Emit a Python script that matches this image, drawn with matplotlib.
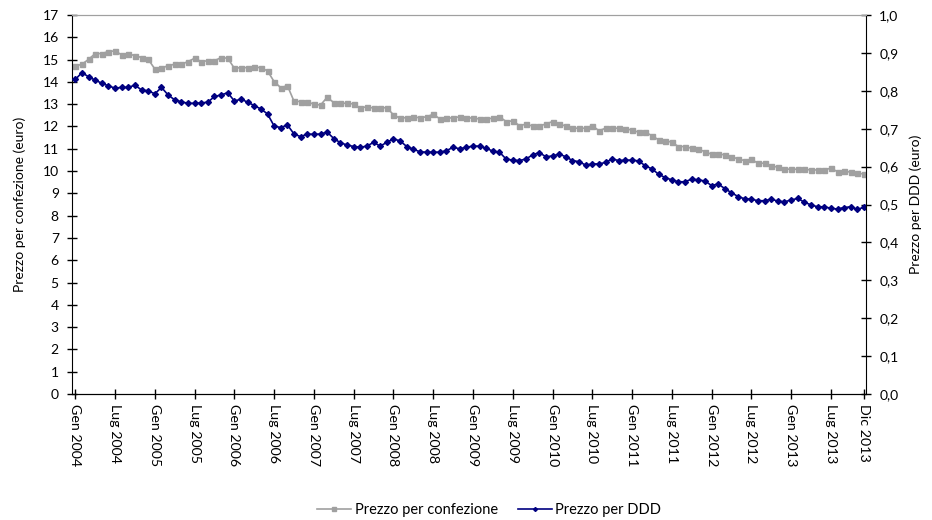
import matplotlib
matplotlib.use("Agg")
import matplotlib.pyplot as plt
from matplotlib.lines import Line2D
from matplotlib.ticker import FuncFormatter

plt.rcParams['font.family'] = ['Lato', 'DejaVu Sans']

# --- data (monthly, Gen 2004 .. Dic 2013) ---
prezzo_confezione = [
    14.71, 14.79, 15.01, 15.27, 15.27, 15.36, 15.39, 15.21, 15.25, 15.18,
    15.09, 15.01, 14.58, 14.61, 14.73, 14.79, 14.79, 14.91, 15.06, 14.91,
    14.95, 14.95, 15.09, 15.06, 14.61, 14.64, 14.64, 14.66, 14.64, 14.49,
    14.01, 13.74, 13.83, 13.13, 13.12, 13.10, 13.00, 12.96, 13.31, 13.07,
    13.04, 13.04, 13.01, 12.82, 12.89, 12.82, 12.82, 12.85, 12.52, 12.37,
    12.40, 12.41, 12.40, 12.43, 12.55, 12.34, 12.40, 12.37, 12.44, 12.40,
    12.37, 12.34, 12.34, 12.37, 12.44, 12.22, 12.25, 12.04, 12.10, 12.02,
    12.02, 12.11, 12.22, 12.11, 12.02, 11.92, 11.92, 11.92, 12.04, 11.81,
    11.92, 11.92, 11.92, 11.89, 11.84, 11.74, 11.74, 11.59, 11.40, 11.37,
    11.29, 11.10, 11.10, 11.02, 10.98, 10.87, 10.75, 10.78, 10.72, 10.65,
    10.54, 10.47, 10.53, 10.35, 10.35, 10.24, 10.17, 10.09, 10.08, 10.08,
    10.08, 10.05, 10.05, 10.05, 10.13, 9.97, 10.02, 9.94, 9.90, 9.87,
]

prezzo_ddd = [
    0.830, 0.848, 0.837, 0.828, 0.820, 0.813, 0.807, 0.809, 0.809, 0.815,
    0.802, 0.800, 0.792, 0.809, 0.789, 0.776, 0.771, 0.767, 0.767, 0.768,
    0.770, 0.785, 0.789, 0.795, 0.773, 0.778, 0.770, 0.761, 0.752, 0.739,
    0.707, 0.703, 0.710, 0.686, 0.679, 0.686, 0.685, 0.686, 0.691, 0.674,
    0.663, 0.657, 0.653, 0.651, 0.654, 0.664, 0.654, 0.664, 0.673, 0.668,
    0.653, 0.646, 0.639, 0.638, 0.638, 0.638, 0.642, 0.651, 0.647, 0.651,
    0.654, 0.654, 0.648, 0.641, 0.638, 0.620, 0.617, 0.616, 0.620, 0.631,
    0.637, 0.626, 0.628, 0.633, 0.626, 0.616, 0.613, 0.604, 0.607, 0.607,
    0.611, 0.620, 0.616, 0.617, 0.617, 0.615, 0.602, 0.594, 0.580, 0.571,
    0.565, 0.560, 0.560, 0.567, 0.565, 0.562, 0.550, 0.554, 0.542, 0.531,
    0.521, 0.515, 0.514, 0.510, 0.510, 0.514, 0.509, 0.507, 0.512, 0.516,
    0.506, 0.499, 0.494, 0.494, 0.490, 0.488, 0.492, 0.494, 0.487, 0.493,
]

tick_months = [0, 6, 12, 18, 24, 30, 36, 42, 48, 54, 60, 66, 72, 78, 84,
               90, 96, 102, 108, 114, 119]
tick_labels = ["Gen 2004", "Lug 2004", "Gen 2005", "Lug 2005", "Gen 2006",
               "Lug 2006", "Gen 2007", "Lug 2007", "Gen 2008", "Lug 2008",
               "Gen 2009", "Lug 2009", "Gen 2010", "Lug 2010", "Gen 2011",
               "Lug 2011", "Gen 2012", "Lug 2012", "Gen 2013", "Lug 2013",
               "Dic 2013"]

GRAY = "#a0a0a0"
NAVY = "#000080"

x = list(range(len(prezzo_confezione)))

fig, ax = plt.subplots(figsize=(9.32, 5.2), dpi=100)
fig.subplots_adjust(left=72 / 932, right=866 / 932, top=1 - 15 / 520, bottom=1 - 394 / 520)
ax2 = ax.twinx()

ax.plot(x, prezzo_confezione, color=GRAY, lw=1.2, marker="s", ms=3.6)
ax2.plot(x, prezzo_ddd, color=NAVY, lw=1.2, marker="D", ms=3.0)

ax.set_xlim(-0.5, 119.3)
ax.set_ylim(0, 17)
ax.set_yticks(range(0, 18))
ax2.set_ylim(0, 1.0)
ax2.set_yticks([i / 10 for i in range(11)])
ax2.yaxis.set_major_formatter(FuncFormatter(lambda v, p: f"{v:.1f}".replace(".", ",")))

ax.set_xticks(tick_months)
ax.set_xticklabels(tick_labels, rotation=270, fontsize=10.3)

for a in (ax, ax2):
    a.tick_params(axis="y", direction="inout", length=7, width=1, labelsize=10, pad=6)
    a.spines["top"].set_color(GRAY)
ax.tick_params(axis="x", direction="inout", length=7, width=1, pad=4)
ax.spines["right"].set_visible(False)
ax2.spines["left"].set_visible(False)
ax2.spines["right"].set_color("black")

ax.set_ylabel("Prezzo per confezione (euro)", fontsize=10, labelpad=12)
ax2.set_ylabel("Prezzo per DDD (euro)", fontsize=10, labelpad=8)

# legend handles drawn with smaller markers, like the original
h1 = Line2D([], [], color=GRAY, lw=1.2, marker="s", ms=2.5)
h2 = Line2D([], [], color=NAVY, lw=1.2, marker="D", ms=2.0)
fig.legend(handles=[h1, h2], labels=["Prezzo per confezione", "Prezzo per DDD"],
           loc="center", bbox_to_anchor=(0.525, 0.019), ncol=2, frameon=False,
           fontsize=10.5, handlelength=2.3, handletextpad=0.25, columnspacing=1.4)

fig.savefig("out.png", dpi=100)
